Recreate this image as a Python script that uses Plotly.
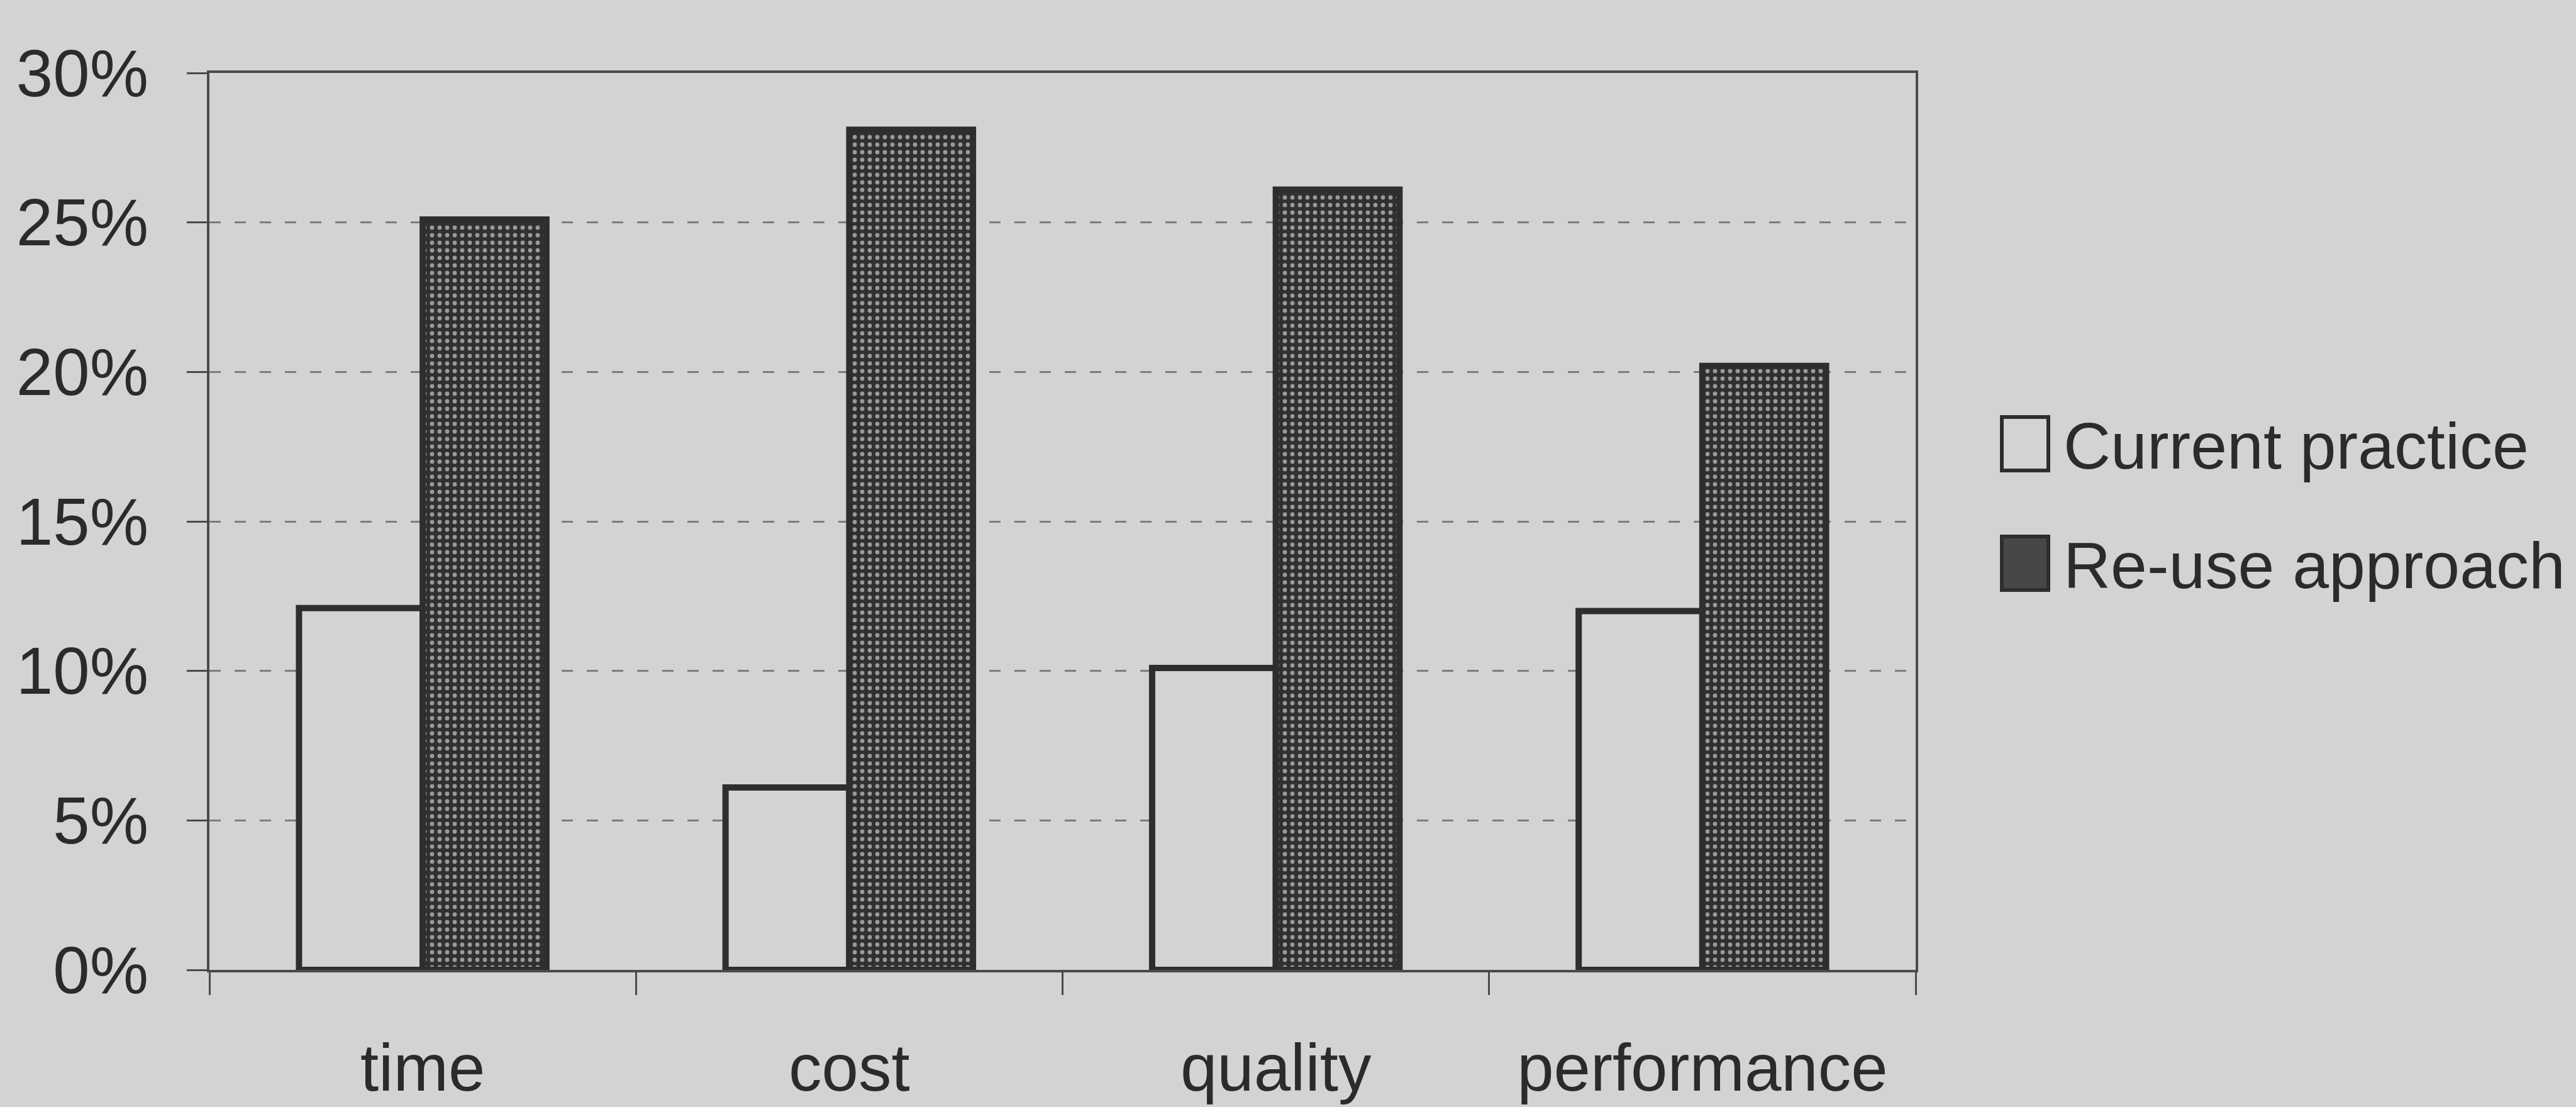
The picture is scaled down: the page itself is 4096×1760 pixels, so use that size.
import plotly.graph_objects as go

# ---- data -------------------------------------------------------------
categories = ["time", "cost", "quality", "performance"]
current_practice = [12.1, 6.1, 10.1, 12.0]      # percent
reuse_approach = [25.1, 28.1, 26.1, 20.2]       # percent
series_names = ["Current practice", "Re-use approach"]
y_tick_values = [0, 5, 10, 15, 20, 25, 30]
y_tick_labels = ["0%", "5%", "10%", "15%", "20%", "25%", "30%"]

# ---- styling ----------------------------------------------------------
W, H = 4096, 1760
PLOT_L, PLOT_R, PLOT_T, PLOT_B = 333, 3046, 116, 1542

BG = "#d3d3d3"
INK = "#2b2b2b"
LINE = "#4a4a4a"
BAR_EDGE = "#2e2e2e"
DARK_FILL = "#303030"
FONT = "Liberation Sans, Arial, sans-serif"
AXIS_FONT_SIZE = 105
LEGEND_FONT_SIZE = 104


def px_x(x):
    return (x - PLOT_L) / (PLOT_R - PLOT_L)


def px_y(y):
    return (PLOT_B - y) / (PLOT_B - PLOT_T)


fig = go.Figure()

fig.add_bar(
    x=categories,
    y=current_practice,
    name=series_names[0],
    marker=dict(color=BG, line=dict(color=BAR_EDGE, width=10)),
    showlegend=False,
)
fig.add_bar(
    x=categories,
    y=reuse_approach,
    name=series_names[1],
    marker=dict(
        color=DARK_FILL,
        line=dict(color=BAR_EDGE, width=10),
        pattern=dict(shape=".", fgcolor="#9a9a9a", bgcolor=DARK_FILL,
                     size=12, solidity=0.25, fillmode="replace"),
    ),
    showlegend=False,
)

# ---- legend, drawn as swatches + labels ---------------------------------
swatches = [
    dict(x0=3183, x1=3257, y0=663, y1=748, fill=BG),
    dict(x0=3183, x1=3257, y0=853, y1=938, fill="#474747"),
]
label_y = [709, 899]
shapes = []
annotations = []
for sw, name, ly in zip(swatches, series_names, label_y):
    shapes.append(dict(
        type="rect", xref="paper", yref="paper",
        x0=px_x(sw["x0"]), x1=px_x(sw["x1"]),
        y0=px_y(sw["y1"]), y1=px_y(sw["y0"]),
        fillcolor=sw["fill"], line=dict(color=BAR_EDGE, width=6),
    ))
    annotations.append(dict(
        text=name, xref="paper", yref="paper",
        x=px_x(3279), y=px_y(ly), xanchor="left", yanchor="middle",
        showarrow=False,
        font=dict(family=FONT, size=LEGEND_FONT_SIZE, color=INK),
    ))

fig.update_layout(
    width=W, height=H,
    margin=dict(l=PLOT_L, r=W - PLOT_R, t=PLOT_T, b=H - PLOT_B, pad=0,
                autoexpand=False),
    paper_bgcolor=BG, plot_bgcolor=BG,
    barmode="group", bargap=0.42, bargroupgap=0,
    font=dict(family=FONT, size=AXIS_FONT_SIZE, color=INK),
    shapes=shapes, annotations=annotations,
    xaxis=dict(
        type="category", range=[-0.5, 3.5], automargin=False,
        showline=True, linecolor=LINE, linewidth=4, mirror=True,
        ticks="outside", tickson="boundaries", ticklen=36, tickwidth=3,
        tickcolor=LINE, showgrid=False, ticklabelstandoff=62, tickangle=0,
        tickfont=dict(family=FONT, size=AXIS_FONT_SIZE, color=INK),
    ),
    yaxis=dict(
        range=[0, 30], tickmode="array", automargin=False,
        tickvals=y_tick_values, ticktext=y_tick_labels,
        showgrid=True, gridcolor="#7c7c7c", gridwidth=3, griddash="18px,22px",
        showline=True, linecolor=LINE, linewidth=4, mirror=True,
        ticks="outside", ticklen=32, tickwidth=3, tickcolor=LINE,
        zeroline=False, ticklabelstandoff=40,
        tickfont=dict(family=FONT, size=AXIS_FONT_SIZE, color=INK),
    ),
)

fig.write_html("out.html")
